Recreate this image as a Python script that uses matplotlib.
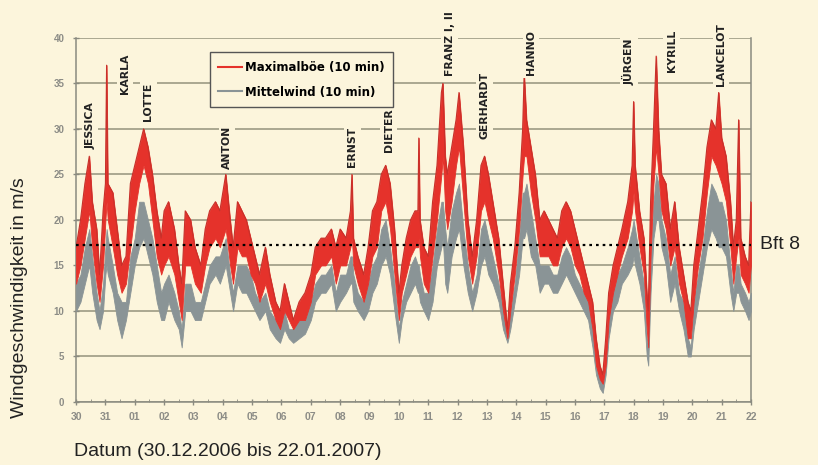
import matplotlib

matplotlib.use("Agg")
import matplotlib.pyplot as plt
from matplotlib.lines import Line2D

# days since 30.12.2006 00:00, envelopes (m/s)
DAYS = [0.00, 0.15, 0.30, 0.45, 0.55, 0.70, 0.80, 0.92, 1.00, 1.04, 1.08, 1.25, 1.40, 1.55, 1.70,
        1.85, 2.00, 2.15, 2.30, 2.45, 2.60, 2.75, 2.90, 3.00, 3.15, 3.35, 3.50, 3.60, 3.72, 3.90,
        4.05, 4.25, 4.40, 4.55, 4.75, 4.90, 5.10, 5.25, 5.35, 5.50, 5.65, 5.80, 5.95, 6.10, 6.25,
        6.45, 6.60, 6.80, 6.95, 7.10, 7.25, 7.40, 7.60, 7.80, 8.00, 8.15, 8.35, 8.50, 8.70, 8.85,
        9.00, 9.20, 9.35, 9.40, 9.45, 9.60, 9.80, 9.95, 10.10, 10.25, 10.40, 10.55, 10.70, 10.85,
        11.00, 11.10, 11.25, 11.40, 11.55, 11.65, 11.68, 11.72, 11.85, 12.00, 12.15, 12.30, 12.45,
        12.50, 12.58, 12.65, 12.80, 12.95, 13.05, 13.20, 13.35, 13.50, 13.65, 13.80, 13.92, 14.05,
        14.20, 14.40, 14.55, 14.70, 14.80, 14.95, 15.10, 15.22, 15.27, 15.35, 15.50, 15.65, 15.80,
        15.95, 16.10, 16.25, 16.40, 16.55, 16.70, 16.85, 17.00, 17.15, 17.30, 17.45, 17.60, 17.72,
        17.85, 17.95, 18.05, 18.15, 18.30, 18.45, 18.60, 18.80, 18.95, 19.00, 19.05, 19.20, 19.35,
        19.45, 19.50, 19.58, 19.68, 19.77, 19.85, 19.95, 20.10, 20.25, 20.40, 20.55, 20.70, 20.85,
        20.95, 21.05, 21.20, 21.35, 21.50, 21.65, 21.80, 21.90, 22.00, 22.15, 22.30, 22.40, 22.50,
        22.58, 22.65, 22.80, 22.92, 23.00]
GUST_HI = [17, 20, 24, 27, 22, 19, 14, 21, 24, 37, 24, 23, 19, 15, 16,
           24, 26, 28, 30, 28, 25, 21, 18, 21, 22, 19, 15, 13, 21, 20,
           17, 15, 19, 21, 22, 21, 25, 20, 17, 22, 21, 20, 18, 16, 14,
           17, 14, 11, 10, 13, 11, 9, 11, 12, 14, 17, 18, 18, 19, 17,
           19, 18, 21, 25, 18, 16, 14, 17, 21, 22, 25, 26, 24, 19,
           12, 15, 18, 20, 21, 21, 29, 20, 17, 16, 22, 26, 34,
           35, 27, 25, 28, 31, 34, 28, 20, 16, 20, 26, 27, 25,
           22, 18, 13, 8, 13, 17, 23, 30, 36, 31, 28, 25, 20,
           21, 20, 19, 18, 21, 22, 21, 19, 17, 15, 13, 11, 7,
           4, 3, 7, 12, 15, 17, 19, 22, 26, 33, 26, 21, 18,
           12, 10, 22, 30, 38, 30, 25, 24, 19, 22, 17, 14, 11,
           10, 15, 19, 23, 28, 31, 30, 34, 29, 27, 22, 17, 20,
           31, 18, 16, 15, 22]
GUST_LO = [13, 15, 18, 21, 17, 13, 11, 15, 20, 22, 20, 17, 14, 12, 13,
           17, 21, 24, 26, 24, 20, 16, 14, 15, 16, 14, 11, 9, 15, 15,
           13, 12, 15, 17, 18, 17, 19, 15, 13, 17, 16, 16, 14, 13, 11,
           13, 11, 9, 8, 10, 9, 8, 9, 9, 11, 14, 15, 15, 16, 13,
           15, 15, 17, 18, 15, 13, 11, 13, 16, 17, 21, 22, 19, 14,
           9, 12, 14, 16, 17, 17, 18, 16, 13, 12, 16, 20, 25,
           27, 21, 19, 22, 26, 28, 22, 16, 13, 16, 21, 22, 20,
           18, 14, 10, 7, 10, 14, 19, 25, 27, 27, 23, 20, 16,
           16, 16, 15, 15, 17, 18, 17, 15, 14, 12, 11, 8, 4,
           2.5, 2, 4, 9, 12, 14, 16, 18, 21, 23, 21, 17, 14,
           8, 6, 16, 24, 28, 25, 21, 19, 15, 17, 13, 11, 7,
           7, 11, 15, 18, 23, 27, 26, 25, 24, 22, 17, 13, 16,
           18, 14, 13, 12, 15]
MEAN_HI = [13, 14, 17, 19, 16, 12, 10, 13, 17, 19, 18, 15, 12, 11, 11,
           16, 18, 22, 22, 20, 18, 15, 12, 13, 14, 12, 10, 8, 13, 13,
           11, 11, 13, 15, 16, 16, 18, 14, 12, 15, 15, 15, 14, 12, 11,
           12, 10, 9, 8, 10, 8, 8, 9, 9, 11, 13, 14, 14, 15, 12,
           14, 14, 16, 16, 14, 12, 11, 13, 15, 16, 19, 20, 17, 13,
           8, 11, 13, 15, 16, 15, 15, 14, 12, 12, 15, 19, 22,
           22, 19, 17, 21, 23, 24, 19, 15, 12, 14, 19, 20, 18,
           16, 13, 10, 7, 10, 13, 18, 23, 23, 24, 21, 18, 15,
           15, 15, 14, 14, 16, 17, 16, 14, 13, 12, 11, 8, 4,
           2.5, 2, 4, 9, 12, 14, 15, 17, 19, 20, 19, 16, 13,
           7, 6, 15, 22, 25, 24, 20, 18, 14, 16, 12, 11, 7,
           6, 11, 14, 17, 21, 24, 23, 22, 22, 20, 15, 12, 15,
           15, 13, 12, 11, 12]
MEAN_LO = [10, 11, 13, 15, 12, 9, 8, 10, 14, 15, 14, 12, 9, 7, 9,
           12, 15, 17, 18, 16, 14, 11, 9, 9, 11, 9, 8, 6, 10, 10,
           9, 9, 11, 13, 14, 13, 15, 12, 10, 13, 12, 12, 11, 10, 9,
           10, 8, 7, 6.5, 8, 7, 6.5, 7, 7.5, 9, 11, 12, 12, 13, 10,
           11, 12, 13, 13, 11, 10, 9, 10, 12, 13, 15, 16, 14, 10,
           6.5, 9, 11, 12, 13, 12, 12, 11, 10, 9, 11, 15, 17,
           18, 13, 12, 16, 18, 19, 15, 12, 10, 12, 15, 16, 14,
           13, 11, 8, 6.5, 8, 11, 14, 18, 18, 19, 16, 15, 12,
           13, 13, 12, 12, 13, 14, 13, 12, 11, 10, 9, 6, 3,
           1.5, 1, 3, 7, 10, 11, 13, 14, 15, 16, 15, 13, 10,
           5, 4, 12, 18, 20, 20, 17, 15, 11, 13, 10, 8, 5,
           5, 8, 11, 14, 17, 19, 18, 17, 17, 16, 12, 10, 12,
           12, 11, 10, 9, 10]

DAY_LABELS = ["30", "31", "01", "02", "03", "04", "05", "06", "07", "08", "09", "10",
              "11", "12", "13", "14", "15", "16", "17", "18", "19", "20", "21", "22"]
STORMS = ["JESSICA", "KARLA", "LOTTE", "ANTON", "ERNST", "DIETER", "FRANZ I, II",
          "GERHARDT", "HANNO", "JÜRGEN", "KYRILL", "LANCELOT"]
STORM_X = [0.48, 1.67, 2.46, 5.15, 9.42, 10.65, 12.73, 13.92, 15.5, 18.84, 20.3, 21.98]
STORM_Y = [30.4, 36.0, 33.0, 28.0, 28.0, 29.9, 39.4, 32.6, 38.4, 37.4, 38.6, 38.2]
BFT8 = 17.3

BG = "#fcf5dc"
GRID = "#9c9a84"
RED = "#e5322b"
GREY = "#8a9496"

plt.rcParams["font.family"] = ["Liberation Sans", "DejaVu Sans"]

fig = plt.figure(figsize=(8.18, 4.65), dpi=100, facecolor=BG)
ax = fig.add_axes([0.093, 0.1355, 0.825, 0.783], facecolor=BG)

ax.fill_between(DAYS, MEAN_LO, MEAN_HI, color=GREY, lw=0.6, zorder=3)
ax.fill_between(DAYS, GUST_LO, GUST_HI, color=RED, lw=0.6, zorder=4)
ax.plot(DAYS, GUST_HI, color="#c8302a", lw=0.8, zorder=4)

ax.axhline(BFT8, color="black", ls=(0, (1.2, 1.8)), lw=1.6, zorder=5)
ax.text(1.014, BFT8, "Bft 8", transform=ax.get_yaxis_transform(), fontsize=14,
        va="center", ha="left", color="#222222")

for name, x, y in zip(STORMS, STORM_X, STORM_Y):
    ax.text(x, y, name, rotation=90, ha="center", va="center", fontsize=7.8,
            fontweight="bold", family="DejaVu Sans", color="#222222", zorder=6,
            bbox=dict(boxstyle="square,pad=0.3", fc=BG, ec="none"))

ax.set_xlim(0, 23)
ax.set_ylim(0, 40)
ax.set_xticks(range(24))
ax.set_xticklabels(DAY_LABELS)
ax.set_yticks(range(0, 41, 5))
ax.set_xticks([d + 0.5 for d in range(23)], minor=True)
ax.tick_params(axis="both", colors="#8a8a80", labelsize=7.5, direction="inout", length=5, width=1)
ax.tick_params(axis="x", which="minor", direction="in", length=2, color="#8a8a80")
ax.tick_params(axis="y", labelsize=7, pad=6)
ax.tick_params(axis="x", pad=5)
for lab in ax.get_xticklabels() + ax.get_yticklabels():
    lab.set_color("#8c8c86")
    lab.set_fontweight("bold")

ax.grid(axis="y", color=GRID, lw=1.2, zorder=1)
ax.set_axisbelow(True)
ax.spines["top"].set_visible(False)
for side in ("left", "bottom", "right"):
    ax.spines[side].set_color("#8a8a80")
    ax.spines[side].set_linewidth(1.1)

handles = [Line2D([], [], color=RED, lw=1.5), Line2D([], [], color=GREY, lw=1.5)]
leg = ax.legend(handles, ["Maximalböe (10 min)", "Mittelwind (10 min)"],
                loc="upper left", bbox_to_anchor=(0.198, 0.96), borderaxespad=0,
                fancybox=False, framealpha=1, facecolor=BG, edgecolor="#555555",
                handlelength=2.0, handletextpad=0.3, labelspacing=1.0, borderpad=0.7,
                prop={"size": 8.5, "weight": "bold", "family": "DejaVu Sans"})
leg.get_frame().set_linewidth(1.0)
leg.set_zorder(7)

fig.text(0.024, 0.36, "Windgeschwindigkeit in m/s", rotation=90, ha="center", va="center",
         fontsize=14, color="#222222")
fig.text(0.091, 0.028, "Datum (30.12.2006 bis 22.01.2007)", ha="left", va="center",
         fontsize=14, color="#222222")

fig.savefig("out.png", dpi=100, facecolor=BG)
